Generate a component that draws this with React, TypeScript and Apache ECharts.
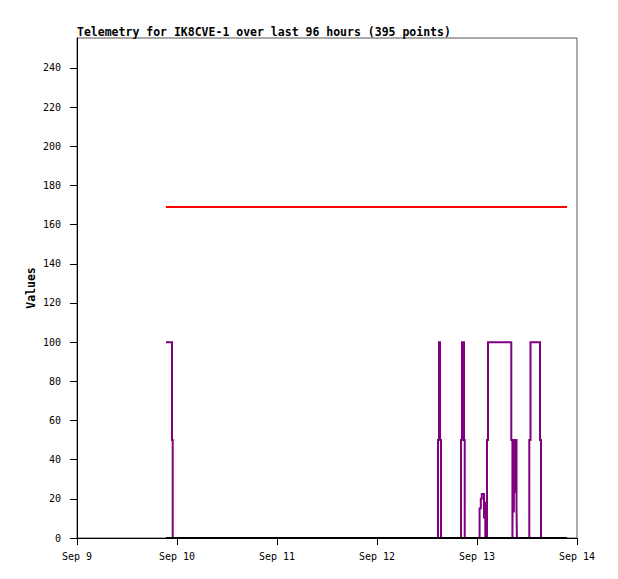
import React, { useEffect, useRef } from "react";
import * as echarts from "echarts";

// x values are hours since Sep 9 00:00
const dayLabels = ["Sep 9", "Sep 10", "Sep 11", "Sep 12", "Sep 13", "Sep 14"];
const yTicks = [0, 20, 40, 60, 80, 100, 120, 140, 160, 180, 200, 220, 240];

const purpleHours = [
  21.36, 22.8, 22.8, 22.97, 22.97,
  86.64, 86.64, 86.88, 86.88, 87.12, 87.12, 87.36, 87.36,
  92.16, 92.16, 92.4, 92.4, 92.88, 92.88, 93.05, 93.05,
  96.62, 96.62, 96.91, 96.91, 97.15, 97.15, 97.68, 97.68, 97.82, 97.82, 97.99, 97.99,
  98.4, 98.4, 98.64, 98.64,
  104.23, 104.23, 104.5, 104.5, 104.64, 104.64, 104.83, 104.83, 104.98, 104.98,
  105.12, 105.12, 105.24, 105.24, 105.48, 105.48, 105.58, 105.58,
  108.55, 108.55, 108.84, 108.84, 111.12, 111.12, 111.36, 111.36,
  117.6,
];
const purpleValues = [
  100, 100, 50, 50, 0,
  0, 50, 50, 100, 100, 50, 50, 0,
  0, 50, 50, 100, 100, 50, 50, 0,
  0, 15, 15, 20, 20, 22.5, 22.5, 10, 10, 18, 18, 0,
  0, 50, 50, 100,
  100, 50, 50, 0, 0, 50, 50, 13, 13, 50,
  50, 23, 23, 50, 50, 15, 15, 0,
  0, 50, 50, 100, 100, 50, 50, 0,
  0,
];
const redHours = [21.36, 117.6];
const redValues = [169, 169];
const blackHours = [21.36, 117.6];
const blackValues = [0, 0];

const zip = (xs: number[], ys: number[]) => xs.map((x, i) => [x, ys[i]]);

export default function App() {
  const ref = useRef<HTMLDivElement>(null);
  useEffect(() => {
    if (!ref.current) return;
    const chart = echarts.init(ref.current, null, { renderer: "svg" });
    const mono = "DejaVu Sans Mono";
    chart.setOption({
      animation: false,
      backgroundColor: "#ffffff",
      title: {
        text: "Telemetry for IK8CVE-1 over last 96 hours (395 points)",
        left: 77,
        top: 26,
        padding: 0,
        textStyle: { fontFamily: mono, fontSize: 11.5, fontWeight: "bold", color: "#000" },
      },
      grid: {
        left: 77,
        top: 38,
        width: 500,
        height: 500,
        show: true,
        borderColor: "#555",
        borderWidth: 1,
        backgroundColor: "transparent",
      },
      xAxis: {
        type: "value",
        min: 0,
        max: 120,
        interval: 24,
        axisLine: { show: true, lineStyle: { color: "#000", width: 1 } },
        axisTick: { show: true, length: 7, lineStyle: { color: "#000" } },
        splitLine: { show: false },
        axisLabel: {
          margin: 13,
          fontFamily: mono,
          fontSize: 10,
          color: "#000",
          formatter: (v: number) => dayLabels[Math.round(v / 24)] ?? "",
        },
      },
      yAxis: {
        type: "value",
        min: 0,
        max: 255.3,
        name: "Values",
        nameLocation: "middle",
        nameGap: 40,
        nameMoveOverlap: false,
        nameTextStyle: { fontFamily: mono, fontSize: 11.5, fontWeight: "bold", color: "#000" },
        axisLine: { show: true, lineStyle: { color: "#000", width: 1 } },
        axisTick: { show: true, length: 7, lineStyle: { color: "#000" }, customValues: yTicks },
        splitLine: { show: false },
        axisLabel: {
          margin: 16,
          fontFamily: mono,
          fontSize: 10,
          color: "#000",
          customValues: yTicks,
        },
      },
      series: [
        {
          type: "line",
          data: zip(purpleHours, purpleValues),
          showSymbol: false,
          symbol: "none",
          lineStyle: { color: "#800080", width: 2, join: "miter" },
          itemStyle: { color: "#800080" },
        },
        {
          type: "line",
          data: zip(redHours, redValues),
          showSymbol: false,
          symbol: "none",
          lineStyle: { color: "#ff0000", width: 2 },
          itemStyle: { color: "#ff0000" },
        },
        {
          type: "line",
          data: zip(blackHours, blackValues),
          showSymbol: false,
          symbol: "none",
          lineStyle: { color: "#000000", width: 2 },
          itemStyle: { color: "#000000" },
        },
      ],
    });
    return () => chart.dispose();
  }, []);
  return (
    <div
      ref={ref}
      style={{ position: "fixed", left: 0, top: 0, width: 618, height: 579, background: "#fff" }}
    />
  );
}
